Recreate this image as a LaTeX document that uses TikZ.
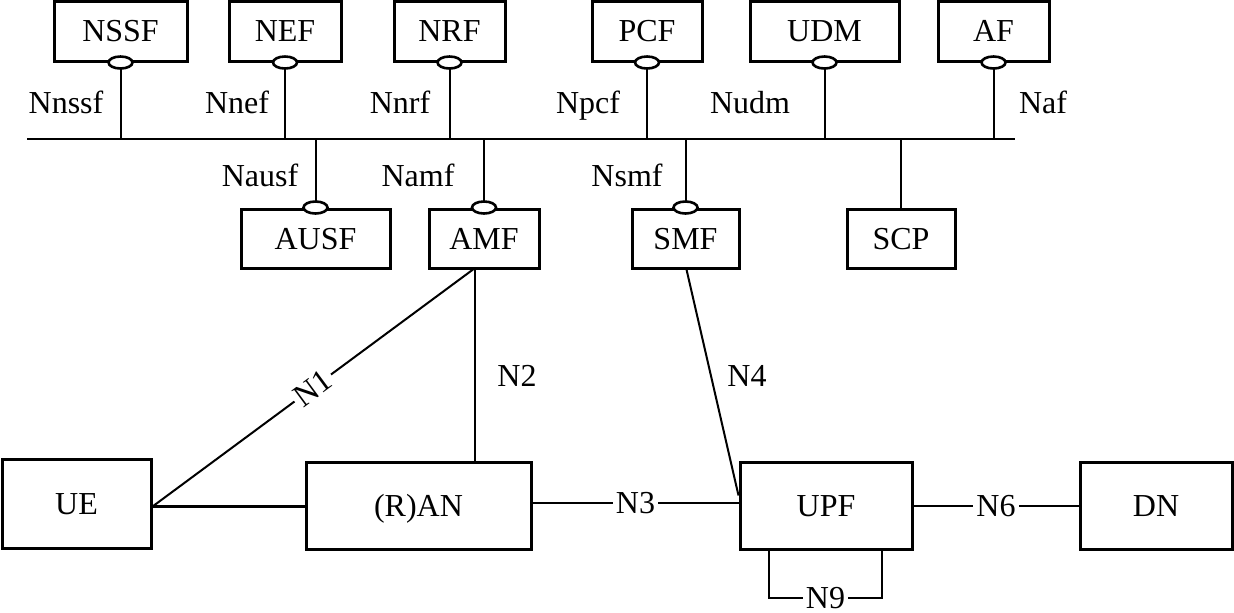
\documentclass[tikz,border=0pt]{standalone}
\usepackage{fontspec}
\setmainfont{Liberation Serif}
\usetikzlibrary{shapes.geometric,calc}
\begin{document}
\begin{tikzpicture}[x=0.5pt,y=-0.5pt,
  box/.style={draw,line width=1.5pt,rectangle,inner sep=0pt,font=\fontsize{16}{18}\selectfont,text height=10.6pt,text depth=0pt},
  port/.style={draw,ellipse,line width=1.3pt,fill=white,minimum width=12pt,minimum height=6pt,inner sep=0pt},
  lab/.style={font=\fontsize{16}{18}\selectfont,inner sep=1.5pt,text height=10.6pt,text depth=0pt},
  stub/.style={line width=1pt},
  conn/.style={line width=1pt},
  bus/.style={line width=1.4pt}]
\useasboundingbox (0,0) rectangle (1234,612);
% top row
\node[box,minimum width=66.5pt,minimum height=30pt] (NSSF) at (120.5,31) {NSSF};
\node[box,minimum width=56pt,minimum height=30pt] (NEF) at (285,31) {NEF};
\node[box,minimum width=55.5pt,minimum height=30pt] (NRF) at (449.5,31) {NRF};
\node[box,minimum width=55pt,minimum height=30pt] (PCF) at (647,31) {PCF};
\node[box,minimum width=74.5pt,minimum height=30pt] (UDM) at (824.5,31) {UDM};
\node[box,minimum width=55.5pt,minimum height=30pt] (AF) at (993.5,31) {AF};
% middle row
\node[box,minimum width=74.5pt,minimum height=29.5pt] (AUSF) at (315.5,238.5) {AUSF};
\node[box,minimum width=55pt,minimum height=29.5pt] (AMF) at (484,238.5) {AMF};
\node[box,minimum width=53.5pt,minimum height=29.5pt] (SMF) at (685.5,238.5) {SMF};
\node[box,minimum width=54pt,minimum height=29.5pt] (SCP) at (901,238.5) {SCP};
% bottom row
\node[box,minimum width=74.5pt,minimum height=44.5pt] (UE) at (76.5,503.5) {UE};
\node[box,minimum width=112.5pt,minimum height=43.5pt] (RAN) at (418.5,505.5) {(R)AN};
\node[box,minimum width=86pt,minimum height=43.5pt] (UPF) at (826,505.5) {UPF};
\node[box,minimum width=76pt,minimum height=43.5pt] (DN) at (1156,505.5) {DN};
% bus
\coordinate (busL) at (27,139);
\coordinate (busR) at (1015,139);
\draw[bus] (busL) -- (busR);
% ports
\foreach \n in {NSSF,NEF,NRF,PCF,UDM,AF}{
  \draw[stub] (\n.south) -- (\n.south |- busL);
  \node[port] (p\n) at (\n.south) {};
}
\foreach \n in {AUSF,AMF,SMF}{
  \draw[stub] (\n.north) -- (\n.north |- busL);
  \node[port] (p\n) at (\n.north) {};
}
\draw[stub] (SCP.north) -- (SCP.north |- busL);
% interface labels
\node[lab] (lNnssf) at (66,103) {Nnssf};
\node[lab] (lNnef) at (237,103) {Nnef};
\node[lab] (lNnrf) at (400,103) {Nnrf};
\node[lab] (lNpcf) at (588,103) {Npcf};
\node[lab] (lNudm) at (750,103) {Nudm};
\node[lab] (lNaf) at (1043,103) {Naf};
\node[lab] (lNausf) at (260,176) {Nausf};
\node[lab] (lNamf) at (418,176) {Namf};
\node[lab] (lNsmf) at (627,176) {Nsmf};
% connectors
\coordinate (amfN1) at ([xshift=-5.5pt]AMF.south);
\coordinate (amfN2) at ([xshift=-4.5pt]AMF.south);
\coordinate (ueE) at ([yshift=-1.5pt]UE.east);
\draw[conn] (ueE) -- node[lab,sloped,fill=white] {N1} (amfN1);
\draw[conn] (amfN2) -- (amfN2 |- RAN.north);
\node[lab] (lN2) at (517,376) {N2};
\draw[line width=1.4pt] (ueE) -- (ueE -| RAN.west);
\coordinate (ranE) at ([yshift=1.5pt]RAN.east);
\draw[conn] (ranE) -- node[lab,fill=white] {N3} (ranE -| UPF.west);
\draw[conn] ([xshift=0.5pt]SMF.south) -- ([yshift=5pt]UPF.west);
\node[lab] (lN4) at (747,376) {N4};
\draw[conn] (UPF.east) -- node[lab,fill=white] {N6} (DN.west);
\coordinate (n9a) at ([xshift=-28.5pt]UPF.south);
\coordinate (n9d) at ([xshift=28pt]UPF.south);
\draw[conn] (n9a) -- ++(0,47) -- node[lab,fill=white,inner ysep=0.5pt] {N9} ($(n9d)+(0,47)$) -- (n9d);
\end{tikzpicture}
\end{document}
